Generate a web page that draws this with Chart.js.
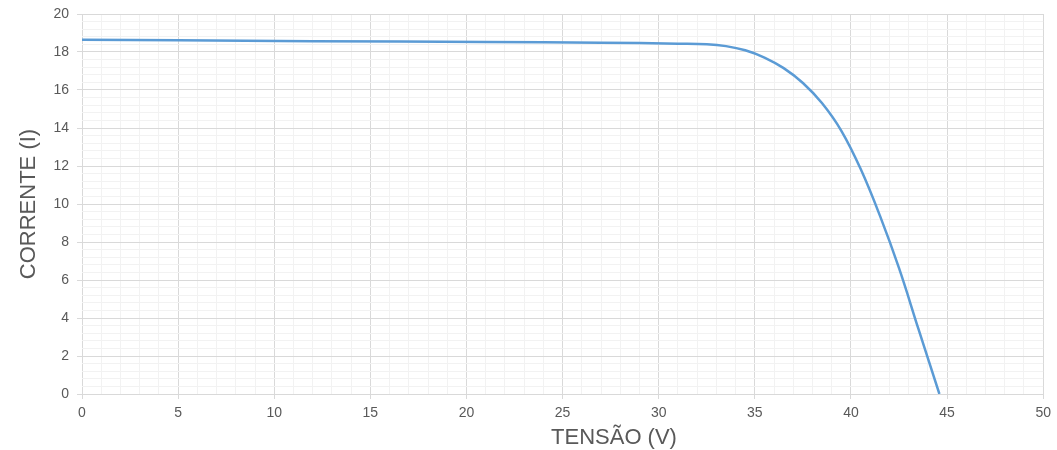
<!DOCTYPE html>
<html>
<head>
<meta charset="utf-8">
<script src="https://cdn.jsdelivr.net/npm/chart.js@4"></script>
<style>
  html, body { margin: 0; padding: 0; background: #fff; }
  #wrap { width: 1057px; height: 450px; }
</style>
</head>
<body>
<div id="wrap"><canvas id="iv_chart"></canvas></div>
<script>
// tensão (V) e corrente (I)
const tensao = [0, 5, 12, 21, 27, 31, 32.5, 33.5, 34.5, 35.5, 36.5, 37.5, 38.5, 39.5, 40.5, 41.5, 42.5, 43.5, 44.6];
const corrente = [18.65, 18.62, 18.57, 18.53, 18.49, 18.44, 18.41, 18.31, 18.09, 17.71, 17.15, 16.37, 15.3, 13.85, 11.85, 9.4, 6.62, 3.45, 0];

const xTitle = 'TENSÃO (V)';
const yTitle = 'CORRENTE (I)';

const xMajor = 5;
const yMajor = 2;

function isMajor(v, step) {
	const r = v / step;
	return Math.abs(r - Math.round(r)) < 1e-6;
}

const points = tensao.map((v, i) => ({ x: v, y: corrente[i] }));

const gridMajor = '#d9d9d9';
const gridMinor = '#f2f2f2';
const textColor = '#595959';
const fontFamily = 'Liberation Sans';

// axis titles drawn by hand, the x one sits right of centre like in the original
const axisTitles = {
	id: 'axisTitles',
	afterDraw(chart) {
		const ctx = chart.ctx;
		const area = chart.chartArea;
		ctx.save();
		ctx.fillStyle = textColor;
		ctx.font = '22px ' + fontFamily;
		ctx.textAlign = 'center';
		ctx.textBaseline = 'middle';
		ctx.fillText(xTitle, 614, 438);
		ctx.translate(29, (area.top + area.bottom) / 2);
		ctx.rotate(-Math.PI / 2);
		ctx.fillText(yTitle, 0, 0);
		ctx.restore();
	}
};

const config = {
	type: 'scatter',
	data: {
		datasets: [{
			label: 'I-V',
			data: points,
			showLine: true,
			borderColor: '#5b9bd5',
			borderWidth: 2.5,
			pointRadius: 0,
			tension: 0.4
		}]
	},
	options: {
		responsive: true,
		maintainAspectRatio: false,
		animation: false,
		layout: { padding: { top: 14, right: 13, left: 0, bottom: 0 } },
		plugins: {
			legend: { display: false },
			tooltip: { enabled: false }
		},
		scales: {
			x: {
				type: 'linear',
				min: 0,
				max: 50,
				afterFit: function(axis) { axis.height = 56; },
				border: { display: false },
				grid: {
					color: ctx => isMajor(ctx.tick.value, xMajor) ? gridMajor : gridMinor,
					tickColor: ctx => isMajor(ctx.tick.value, xMajor) ? gridMajor : 'rgba(0,0,0,0)',
					tickLength: 5
				},
				ticks: {
					stepSize: 1,
					autoSkip: false,
					maxRotation: 0,
					padding: 6,
					color: textColor,
					font: { family: fontFamily, size: 14 },
					callback: function(value) {
						return isMajor(value, xMajor) ? value : '';
					}
				}
			},
			y: {
				type: 'linear',
				min: 0,
				max: 20,
				afterFit: function(axis) {
					axis.width = 82;
					axis.paddingTop = 8;
					axis.paddingBottom = 8;
				},
				border: { display: false },
				grid: {
					color: ctx => isMajor(ctx.tick.value, yMajor) ? gridMajor : gridMinor,
					tickColor: ctx => isMajor(ctx.tick.value, yMajor) ? gridMajor : 'rgba(0,0,0,0)',
					tickLength: 5
				},
				ticks: {
					stepSize: 0.4,
					autoSkip: false,
					padding: 8,
					color: textColor,
					font: { family: fontFamily, size: 14 },
					callback: function(value) {
						return isMajor(value, yMajor) ? Math.round(value) : '';
					}
				}
			}
		}
	},
	plugins: [axisTitles]
};

var cv = document.getElementById('iv_chart');
var chart = new Chart(cv.getContext('2d'), config);
</script>
</body>
</html>
